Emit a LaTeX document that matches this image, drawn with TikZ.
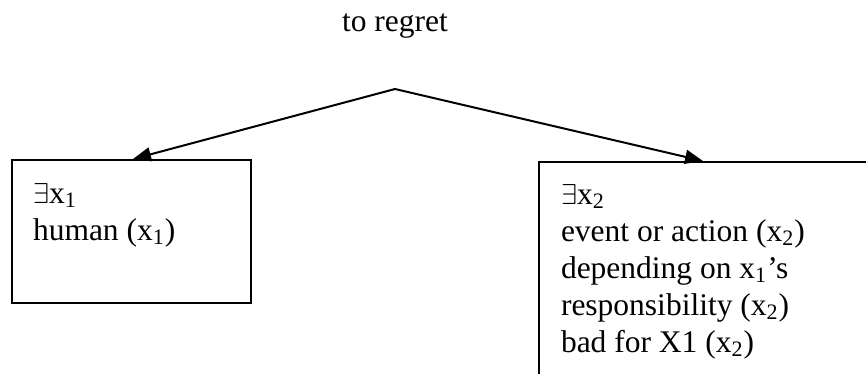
\documentclass[tikz,border=0pt]{standalone}
\usepackage{fontspec}
\setmainfont{Liberation Serif}
\usetikzlibrary{arrows.meta}
\begin{document}
\begin{tikzpicture}[x=0.5pt,y=-0.5pt,line width=1pt,
  txt/.style={inner sep=0pt,anchor=base west,align=left,font=\fontsize{15.75}{18.5}\selectfont},
  box/.style={draw,inner sep=0pt,anchor=north west},
  arr/.style={-{Triangle[length=9pt,width=7pt]},line join=miter}]
\useasboundingbox (0,0) rectangle (866,374);
\clip (0,0) rectangle (866,374);
\node[txt,anchor=base] (title) at (395,32) {to regret};
\coordinate (apex) at (395,89);
\node[box,minimum width=119.5pt,minimum height=71.5pt] (lbox) at (11,159) {};
\node[box,minimum width=170pt,minimum height=120pt] (rbox) at (538,161) {};
\node[txt] (ltext) at (32,240) {$\exists$x\textsubscript{1}\\human (x\textsubscript{1})};
\node[txt] (rtext) at (560,352) {$\exists$x\textsubscript{2}\\event or action (x\textsubscript{2})\\depending on x\textsubscript{1}’s\\responsibility (x\textsubscript{2})\\bad for X1 (x\textsubscript{2})};
\draw[arr] (apex) -- ([xshift=61pt]lbox.north west);
\draw[arr] (apex) -- ([xshift=82.5pt]rbox.north west);
\end{tikzpicture}
\end{document}
